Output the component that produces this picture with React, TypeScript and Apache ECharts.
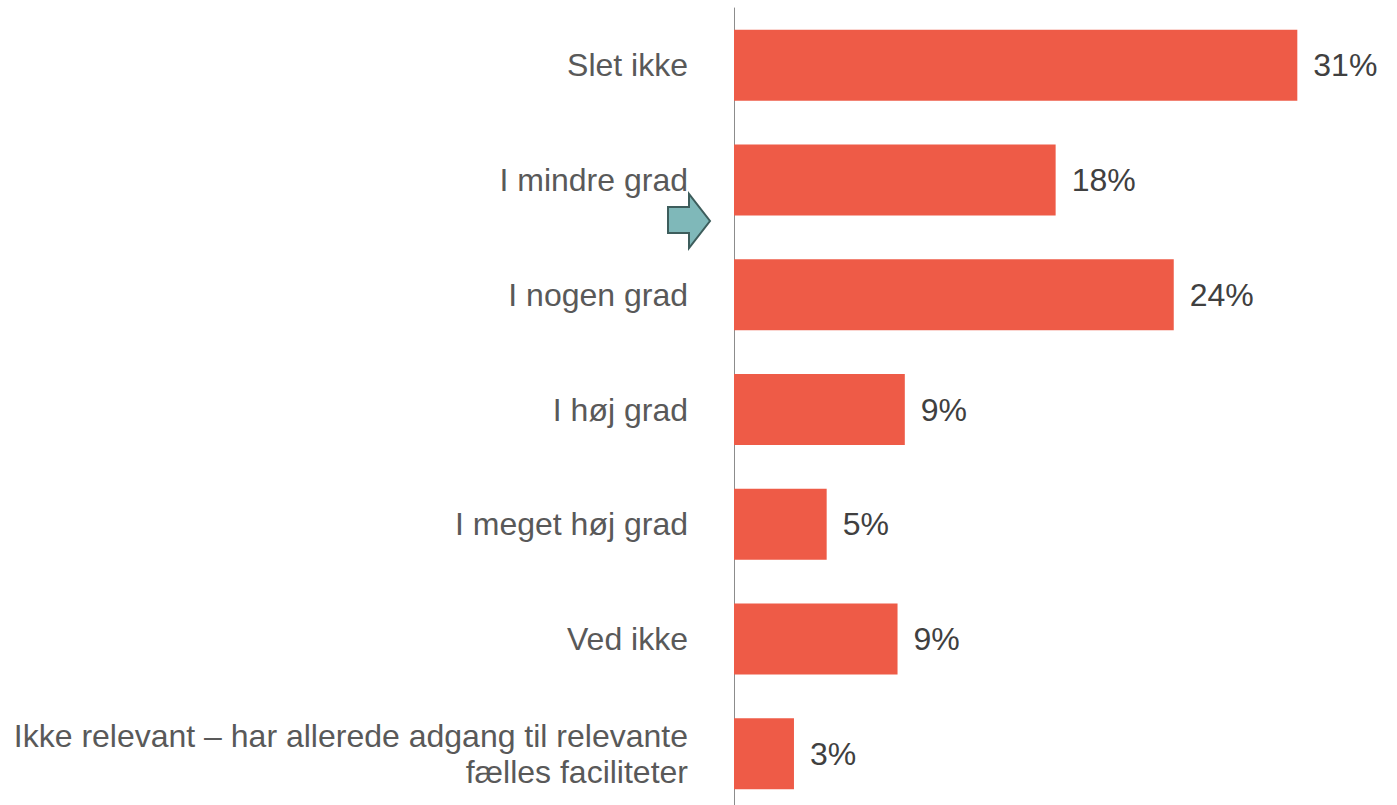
import React, { useEffect, useRef } from "react";
import * as echarts from "echarts";

const categories = [
  "Slet ikke",
  "I mindre grad",
  "I nogen grad",
  "I høj grad",
  "I meget høj grad",
  "Ved ikke",
  "Ikke relevant – har allerede adgang til relevante\nfælles faciliteter",
];
const values = [31.0, 17.7, 24.2, 9.4, 5.1, 9.0, 3.3];

export default function App() {
  const ref = useRef<HTMLDivElement>(null);
  useEffect(() => {
    if (!ref.current) return;
    const chart = echarts.init(ref.current, null, { renderer: "svg" });
    chart.setOption({
      animation: false,
      textStyle: { fontFamily: "Liberation Sans, Arial, sans-serif" },
      grid: { left: 734, right: 27, top: 8, bottom: 9, containLabel: false },
      xAxis: {
        type: "value",
        min: 0,
        max: 35,
        show: false,
      },
      yAxis: {
        type: "category",
        data: categories,
        inverse: true,
        axisLine: { show: true, lineStyle: { color: "#8c8c8c", width: 1 } },
        axisTick: { show: false },
        axisLabel: {
          fontSize: 32,
          color: "#595959",
          margin: 46,
          lineHeight: 36,
          align: "right",
          fontFamily: "Liberation Sans, Arial, sans-serif",
        },
      },
      series: [
        {
          type: "bar",
          data: values,
          barWidth: 71,
          itemStyle: { color: "#ee5b47" },
          label: {
            show: true,
            position: "right",
            distance: 16,
            fontSize: 32,
            color: "#404040",
            fontFamily: "Liberation Sans, Arial, sans-serif",
            formatter: (p: any) => Math.round(p.value) + "%",
          },
        },
      ],
      graphic: [
        {
          type: "polygon",
          shape: {
            points: [
              [668, 207],
              [689, 207],
              [689, 194],
              [710, 221],
              [689, 248],
              [689, 233],
              [668, 233],
            ],
          },
          style: { fill: "#7fb8b9", stroke: "#3d5d5c", lineWidth: 2 },
        },
      ],
    });
    return () => chart.dispose();
  }, []);
  return (
    <div
      ref={ref}
      style={{ position: "absolute", left: 0, top: 0, width: 1397, height: 820 }}
    />
  );
}
